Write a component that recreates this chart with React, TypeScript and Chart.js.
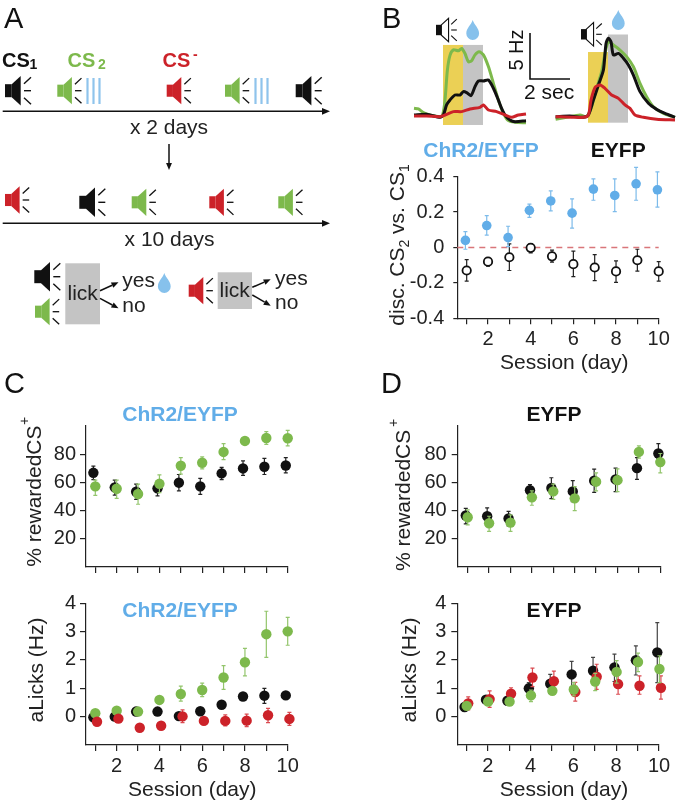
import React, { useEffect, useRef } from "react";
import { Chart, registerables } from "chart.js";

Chart.register(...registerables);

// ---------- data ----------
const sessions = [1, 2, 3, 4, 5, 6, 7, 8, 9, 10];

// B, discrimination
const discBlue = [0.04, 0.124, 0.056, 0.21, 0.263, 0.194, 0.33, 0.294, 0.36, 0.326];
const discBlueHi = [0.09, 0.18, 0.12, 0.245, 0.32, 0.275, 0.388, 0.388, 0.453, 0.427];
const discBlueLo = [-0.01, 0.07, 0.005, 0.17, 0.207, 0.11, 0.267, 0.203, 0.267, 0.228];
const discBlack = [-0.13, -0.08, -0.055, -0.002, -0.05, -0.094, -0.113, -0.135, -0.072, -0.135];
const discBlackHi = [-0.068, -0.06, 0.02, 0.02, -0.015, -0.02, -0.04, -0.075, -0.01, -0.08];
const discBlackLo = [-0.19, -0.105, -0.13, -0.03, -0.083, -0.165, -0.187, -0.197, -0.133, -0.19];
const discZero = [0, 0];

// B, traces: left (ChR2/EYFP)
const lGreenT = [-1.45, -1.23, -0.98, -0.65, -0.15, -0.02, 0.1, 0.22, 0.35, 0.52, 0.77, 0.93, 1.1, 1.27, 1.43, 1.6, 1.8, 2.02, 2.27, 2.52, 2.77, 3.02, 3.27, 3.6, 4.15];
const lGreenHz = [0.8, 0.73, 0.33, 0.07, -0.11, 0.07, 1.7, 5.0, 6.6, 7.2, 7.1, 7.35, 6.8, 5.9, 6.0, 6.65, 7.0, 6.65, 5.37, 3.54, 1.7, 0.26, -0.55, -0.73, -0.77];
const lBlackT = [-1.45, -0.82, -0.15, 0.02, 0.18, 0.35, 0.6, 0.85, 1.02, 1.18, 1.4, 1.6, 1.77, 2.02, 2.27, 2.52, 2.77, 2.93, 3.1, 3.35, 3.6, 4.15];
const lBlackHz = [0.07, 0.15, -0.18, 0.07, 1.17, 1.72, 2.26, 2.26, 2.63, 2.52, 2.19, 3.17, 3.8, 3.8, 3.9, 3.0, 1.7, 0.8, 0.07, -0.47, -0.66, -0.55];
const lRedT = [-1.45, -0.82, -0.15, 0.1, 0.52, 0.93, 1.35, 1.85, 2.02, 2.27, 2.68, 3.1, 3.43, 3.77, 4.15];
const lRedHz = [-0.04, -0.04, -0.11, 0.07, 0.44, 0.44, 0.73, 0.91, 1.17, 0.62, 0.44, 0.07, -0.18, 0.07, 0.18];
// B, traces: right (EYFP)
const rGreenT = [-1.62, -1.07, -0.4, -0.07, 0.18, 0.43, 0.68, 0.85, 1.02, 1.27, 1.6, 1.93, 2.27, 2.6, 2.93, 3.27, 3.77, 4.35];
const rGreenHz = [-0.29, -0.07, 0.18, 0, 1.09, 3.1, 4.9, 6.9, 8.2, 7.85, 7.3, 6.57, 5.47, 3.65, 2.19, 1.09, 0.36, -0.07];
const rBlackT = [-1.62, -0.9, -0.23, 0.02, 0.27, 0.55, 0.77, 0.9, 1.02, 1.15, 1.27, 1.52, 1.77, 2.02, 2.27, 2.6, 3.02, 3.43, 3.85, 4.35];
const rBlackHz = [0, 0.07, -0.07, 0.18, 1.82, 3.65, 5.1, 8.0, 8.6, 8.2, 6.75, 6.93, 6.4, 5.66, 4.56, 2.74, 1.46, 0.8, 0.36, -0.07];
const rRedT = [-1.62, -0.73, -0.23, 0.02, 0.15, 0.35, 0.6, 0.85, 1.18, 1.52, 1.85, 2.1, 2.35, 2.77, 3.43, 4.35];
const rRedHz = [0, -0.07, -0.07, 0.18, 1.82, 3.2, 3.47, 3.1, 2.37, 2.0, 1.28, 0.91, 0.18, -0.07, -0.29, -0.36];
// cue (0-1 s) and reward (1-2 s) windows, heights in Hz
const phaseEdges = [0, 1, 2];
const lPhaseTop = [7.74, 7.74];
const lPhaseFloor = -1.02;
const rPhaseTop = [7.08, 9.0];
const rPhaseFloor = -0.66;

// C, % rewarded
const cRewBlack = [66.8, 56.5, 53.4, 55.8, 59.8, 57.2, 66.4, 69.9, 71.1, 72];
const cRewBlackHi = [71.5, 61.6, 58.8, 58, 65.6, 62.8, 70.6, 75.3, 77, 77.6];
const cRewBlackLo = [62, 51, 48, 50.4, 54, 51.5, 62, 65, 65.6, 66.8];
const cRewGreen = [57.2, 55.5, 51.8, 59, 71.8, 73.9, 81.6, 89.4, 91.5, 91.3];
const cRewGreenHi = [61.6, 61.6, 58.8, 65.4, 77.6, 78.1, 87.5, 92, 96, 96.9];
const cRewGreenLo = [50.8, 48.7, 44.5, 52.7, 65.9, 69.6, 76.2, 86.8, 87, 85.9];

// C, anticipatory licks
const cLickBlack = [-0.02, 0, 0.18, 0.18, 0.02, 0.19, 0.42, 0.71, 0.74, 0.75];
const cLickBlackHi = [0.04, 0.06, 0.24, 0.24, 0.08, 0.25, 0.5, 0.79, 1.0, 0.82];
const cLickBlackLo = [-0.08, -0.06, 0.12, 0.12, -0.04, 0.13, 0.34, 0.63, 0.47, 0.68];
const cLickGreen = [0.12, 0.21, 0.18, 0.59, 0.8, 0.94, 1.38, 1.92, 2.91, 3.01];
const cLickGreenHi = [0.17, 0.28, 0.23, 0.67, 1.08, 1.18, 1.8, 2.41, 3.72, 3.5];
const cLickGreenLo = [0.07, 0.14, 0.13, 0.51, 0.55, 0.71, 0.96, 1.44, 2.09, 2.52];
const cLickRed = [-0.18, -0.07, -0.39, -0.32, 0.01, -0.15, -0.15, -0.14, 0.05, -0.08];
const cLickRedHi = [-0.11, -0.02, -0.33, -0.26, 0.24, -0.07, 0.06, 0.09, 0.29, 0.15];
const cLickRedLo = [-0.25, -0.12, -0.45, -0.38, -0.21, -0.23, -0.33, -0.35, -0.21, -0.31];

// D, % rewarded
const dRewBlack = [36.5, 36, 34.4, 54.4, 56, 53.6, 61.2, 62.1, 70.1, 80.5];
const dRewBlackHi = [41.6, 42, 39.5, 58.4, 63.3, 61.2, 69.4, 70.1, 77.6, 87.5];
const dRewBlackLo = [30.6, 29.9, 29.2, 50.4, 48.5, 46.4, 52.9, 53.4, 62.1, 77];
const dRewGreen = [35.3, 31, 31.5, 49.4, 53.6, 48.7, 60.5, 61.6, 81.6, 74.4];
const dRewGreenHi = [40.5, 36, 37, 54, 58.8, 57, 66.8, 69.6, 85.9, 80.5];
const dRewGreenLo = [29.9, 25.2, 25.2, 43.8, 48, 40, 54, 53.4, 77.2, 66.8];

// D, anticipatory licks
const dLickBlack = [0.34, 0.6, 0.56, 1, 1.16, 1.49, 1.62, 1.74, 1.99, 2.27];
const dLickBlackHi = [0.39, 0.65, 0.61, 1.2, 1.49, 1.95, 2.09, 2.21, 2.5, 3.32];
const dLickBlackLo = [0.29, 0.55, 0.51, 0.82, 0.82, 1.04, 1.18, 1.24, 1.47, 1.2];
const dLickGreen = [0.38, 0.53, 0.53, 0.75, 0.91, 0.96, 1.24, 1.58, 1.93, 1.68];
const dLickGreenHi = [0.43, 0.58, 0.58, 0.94, 1.01, 1.2, 1.53, 1.98, 2.24, 2.15];
const dLickGreenLo = [0.33, 0.48, 0.48, 0.53, 0.81, 0.73, 0.92, 1.18, 1.59, 1.2];
const dLickRed = [0.47, 0.62, 0.81, 1.38, 1.25, 0.87, 1.41, 1.15, 1.09, 1.02];
const dLickRedHi = [0.7, 0.91, 1.02, 1.71, 1.61, 1.21, 1.85, 1.59, 1.44, 1.44];
const dLickRedLo = [0.24, 0.33, 0.61, 1.06, 0.91, 0.55, 0.96, 0.79, 0.79, 0.62];

const discTicks = [-0.4, -0.2, 0, 0.2, 0.4];
const rewTicks = [20, 40, 60, 80];
const lickTicks = [0, 1, 2, 3, 4];

// ---------- style ----------
const FONT = '"Liberation Sans", Arial, sans-serif';
const BLACK = "#111111";
const INK = "#222222";
const GREEN = "#7DB94C";
const RED = "#CC2229";
const BLUE = "#61ADE8";
const YELLOW = "#EBD055";
const GRAY = "#C4C4C4";
const TICK_SIZE = 20;

// ---------- chart helpers ----------
const errorBars = {
  id: "errorBars",
  beforeDatasetDraw(chart: any, args: any) {
    const ds = chart.data.datasets[args.index];
    if (!ds.errHi) return;
    const { x, y } = chart.scales;
    const c = chart.ctx;
    c.save();
    c.strokeStyle = ds.errColor;
    c.lineWidth = 1.2;
    ds.data.forEach((p: any, i: number) => {
      const px = x.getPixelForValue(p.x);
      const hi = y.getPixelForValue(ds.errHi[i]);
      const lo = y.getPixelForValue(ds.errLo[i]);
      c.beginPath();
      c.moveTo(px, hi);
      c.lineTo(px, lo);
      c.moveTo(px - 2, hi);
      c.lineTo(px + 2, hi);
      c.moveTo(px - 2, lo);
      c.lineTo(px + 2, lo);
      c.stroke();
    });
    c.restore();
  },
};

function series(
  values: number[],
  hi: number[],
  lo: number[],
  color: string,
  errColor: string,
  shift: number,
  extra: any = {}
) {
  return {
    data: values.map((v, i) => ({ x: sessions[i] + shift, y: v })),
    errHi: hi,
    errLo: lo,
    errColor,
    pointRadius: 5.2,
    pointBackgroundColor: color,
    pointBorderColor: color,
    pointBorderWidth: 0,
    showLine: false,
    clip: false,
    ...extra,
  };
}

type Box = {
  left: number; top: number; width: number; height: number;
  axisX: number; areaTop: number; areaRight: number; areaBottom: number;
};

function panelConfig(
  box: Box,
  datasets: any[],
  xMin: number,
  yMin: number,
  yMax: number,
  yTicks: number[],
  showX: boolean,
  yFormat: (v: number) => string,
  tickLen: number,
  yPad: number
) {
  const axisLine = { display: true, color: INK, width: 1.2 };
  return {
    type: "scatter" as const,
    data: { datasets },
    plugins: [errorBars],
    options: {
      animation: false,
      responsive: false,
      events: [],
      layout: {
        autoPadding: false,
        padding: {
          left: 0,
          bottom: 0,
          top: box.areaTop - box.top,
          right: box.left + box.width - box.areaRight,
        },
      },
      plugins: { legend: { display: false }, tooltip: { enabled: false } },
      scales: {
        x: {
          type: "linear",
          min: xMin,
          max: 10,
          afterBuildTicks: (s: any) => {
            s.ticks = sessions.map((v) => ({ value: v }));
          },
          afterFit: (s: any) => {
            s.height = box.top + box.height - box.areaBottom;
            s.paddingLeft = 0;
            s.paddingRight = 0;
          },
          border: axisLine,
          grid: { drawOnChartArea: false, drawTicks: true, tickLength: 6, color: INK, lineWidth: 1.2 },
          ticks: {
            autoSkip: false,
            maxRotation: 0,
            minRotation: 0,
            padding: 3,
            color: INK,
            font: { family: FONT, size: TICK_SIZE },
            callback: (v: number) => (showX && v % 2 === 0 ? String(v) : ""),
          },
        },
        y: {
          type: "linear",
          min: yMin,
          max: yMax,
          afterBuildTicks: (s: any) => {
            s.ticks = yTicks.map((v) => ({ value: v }));
          },
          afterFit: (s: any) => {
            s.width = box.axisX - box.left;
            s.paddingTop = 0;
            s.paddingBottom = 0;
          },
          border: axisLine,
          grid: { drawOnChartArea: false, drawTicks: true, tickLength: tickLen, color: INK, lineWidth: 1.2 },
          ticks: {
            padding: yPad,
            color: INK,
            font: { family: FONT, size: TICK_SIZE },
            callback: (v: number) => yFormat(v),
          },
        },
      },
    },
  };
}

function traceConfig(
  traces: { t: number[]; hz: number[]; color: string }[],
  tMin: number,
  tMax: number,
  hzMin: number,
  hzMax: number,
  phaseTop: number[],
  phaseFloor: number
) {
  const phases = {
    id: "phases",
    beforeDatasetsDraw(chart: any) {
      const { x, y } = chart.scales;
      const c = chart.ctx;
      [YELLOW, GRAY].forEach((color, i) => {
        const l = x.getPixelForValue(phaseEdges[i]);
        const r = x.getPixelForValue(phaseEdges[i + 1]);
        const t = y.getPixelForValue(phaseTop[i]);
        const b = y.getPixelForValue(phaseFloor);
        c.fillStyle = color;
        c.fillRect(l, t, r - l, b - t);
      });
    },
  };
  return {
    type: "line" as const,
    data: {
      datasets: traces.map((tr) => ({
        data: tr.t.map((t, i) => ({ x: t, y: tr.hz[i] })),
        borderColor: tr.color,
        borderWidth: 3,
        pointRadius: 0,
        tension: 0.25,
        borderJoinStyle: "round",
        clip: false,
      })),
    },
    plugins: [phases],
    options: {
      animation: false,
      responsive: false,
      events: [],
      layout: { autoPadding: false, padding: 0 },
      plugins: { legend: { display: false }, tooltip: { enabled: false } },
      scales: {
        x: { type: "linear", min: tMin, max: tMax, display: false },
        y: { type: "linear", min: hzMin, max: hzMax, display: false },
      },
    },
  };
}

function Panel({ box, make }: { box: { left: number; top: number; width: number; height: number }; make: () => any }) {
  const ref = useRef<HTMLCanvasElement | null>(null);
  useEffect(() => {
    const chart = new Chart(ref.current as HTMLCanvasElement, make());
    return () => chart.destroy();
  }, []);
  return (
    <canvas
      ref={ref}
      width={box.width}
      height={box.height}
      style={{ position: "absolute", left: box.left, top: box.top, width: box.width, height: box.height }}
    />
  );
}

// ---------- schematic helpers ----------
function Speaker({ x, y, color, s = 1, hollow = false }: { x: number; y: number; color: string; s?: number; hollow?: boolean }) {
  return (
    <g transform={`translate(${x} ${y}) scale(${s})`}>
      <rect x={0} y={-6.5} width={6.7} height={13} fill={color} />
      <polygon
        points="6.7,-6.5 15.7,-14.7 15.7,14.7 6.7,6.5"
        fill={hollow ? "#fff" : color}
        stroke={hollow ? color : "none"}
        strokeWidth={hollow ? 1.4 : 0}
      />
      <g stroke={hollow ? color : BLACK} strokeWidth={1.4}>
        <line x1={19} y1={-7} x2={26} y2={-13.5} />
        <line x1={19} y1={0} x2={26} y2={0} />
        <line x1={19} y1={7} x2={26} y2={13.5} />
      </g>
    </g>
  );
}

function Pulses({ x, y }: { x: number; y: number }) {
  return (
    <g stroke="#8FC4EC" strokeWidth={2.2}>
      {[0, 6, 12].map((d) => (
        <line key={d} x1={x + d} y1={y - 13} x2={x + d} y2={y + 13} />
      ))}
    </g>
  );
}

function Arrow({ x1, y1, x2, y2, w = 1.5, head = 8 }: { x1: number; y1: number; x2: number; y2: number; w?: number; head?: number }) {
  const a = Math.atan2(y2 - y1, x2 - x1);
  const bx = x2 - head * Math.cos(a);
  const by = y2 - head * Math.sin(a);
  const nx = -Math.sin(a) * head * 0.42;
  const ny = Math.cos(a) * head * 0.42;
  return (
    <g>
      <line x1={x1} y1={y1} x2={bx} y2={by} stroke={BLACK} strokeWidth={w} />
      <polygon points={`${x2},${y2} ${bx + nx},${by + ny} ${bx - nx},${by - ny}`} fill={BLACK} />
    </g>
  );
}

function Drop({ x, top, h = 20 }: { x: number; top: number; h?: number }) {
  const w = h * 0.32;
  const k = h / 20;
  return (
    <path
      d={`M ${x} ${top} C ${x + 1.5 * k} ${top + 5 * k} ${x + w} ${top + 8 * k} ${x + w} ${top + 13.5 * k} A ${w} ${w} 0 1 1 ${x - w} ${top + 13.5 * k} C ${x - w} ${top + 8 * k} ${x - 1.5 * k} ${top + 5 * k} ${x} ${top} Z`}
      fill="#86C1EC"
    />
  );
}

function Txt({ x, y, size = 21, color = INK, bold = false, anchor = "start", rot, children }: any) {
  return (
    <text
      x={x}
      y={y}
      fontSize={size}
      fill={color}
      fontWeight={bold ? "bold" : "normal"}
      textAnchor={anchor}
      transform={rot ? `rotate(${rot} ${x} ${y})` : undefined}
    >
      {children}
    </text>
  );
}

// ---------- boxes ----------
const boxDisc: Box = { left: 410, top: 165, width: 267, height: 190, axisX: 457.3, areaTop: 176.7, areaRight: 658.7, areaBottom: 318.3 };
const boxCRew: Box = { left: 44, top: 415, width: 270, height: 165, axisX: 86, areaTop: 426, areaRight: 287.7, areaBottom: 567 };
const boxCLick: Box = { left: 44, top: 592, width: 270, height: 185, axisX: 86, areaTop: 603.3, areaRight: 287.7, areaBottom: 745 };
const boxDRew: Box = { left: 412, top: 415, width: 265, height: 165, axisX: 457.7, areaTop: 426, areaRight: 660.3, areaBottom: 567 };
const boxDLick: Box = { left: 412, top: 592, width: 265, height: 185, axisX: 457.3, areaTop: 603.3, areaRight: 659, areaBottom: 745 };
const boxTraceL = { left: 410, top: 40, width: 120, height: 90 };
const boxTraceR = { left: 550, top: 25, width: 127, height: 105 };

const fmtDisc = (v: number) => (v === 0 ? "0" : v.toFixed(1));
const fmtInt = (v: number) => String(v);

export default function App() {
  return (
    <div style={{ position: "fixed", left: 0, top: 0, width: 677, height: 802, overflow: "hidden", background: "#fff", fontFamily: FONT }}>
      <Panel
        box={boxTraceL}
        make={() =>
          traceConfig(
            [
              { t: lRedT, hz: lRedHz, color: RED },
              { t: lBlackT, hz: lBlackHz, color: BLACK },
              { t: lGreenT, hz: lGreenHz, color: GREEN },
            ],
            -1.65, 4.35, -1.57, 8.28, lPhaseTop, lPhaseFloor
          )
        }
      />
      <Panel
        box={boxTraceR}
        make={() =>
          traceConfig(
            [
              { t: rRedT, hz: rRedHz, color: RED },
              { t: rBlackT, hz: rBlackHz, color: BLACK },
              { t: rGreenT, hz: rGreenHz, color: GREEN },
            ],
            -1.9, 4.45, -1.46, 10.04, rPhaseTop, rPhaseFloor
          )
        }
      />
      <Panel
        box={boxDisc}
        make={() =>
          panelConfig(
            boxDisc,
            [
              series(discBlue, discBlueHi, discBlueLo, BLUE, "#7DBBEA", -0.06, { pointRadius: 4.8 }),
              series(discBlack, discBlackHi, discBlackLo, "#fff", INK, 0, {
                pointRadius: 4.2,
                pointBorderColor: BLACK,
                pointBorderWidth: 1.8,
              }),
              {
                data: [{ x: 0.56, y: discZero[0] }, { x: 10, y: discZero[1] }],
                showLine: true,
                pointRadius: 0,
                borderColor: "#D9767A",
                borderWidth: 1.3,
                borderDash: [6, 5],
                clip: false,
              },
            ],
            0.56, -0.4, 0.4, discTicks, true, fmtDisc, 4, 9
          )
        }
      />
      <Panel
        box={boxCRew}
        make={() =>
          panelConfig(
            boxCRew,
            [
              series(cRewGreen, cRewGreenHi, cRewGreenLo, GREEN, "#93C56C", 0),
              series(cRewBlack, cRewBlackHi, cRewBlackLo, BLACK, INK, -0.09),
            ],
            0.565, 0, 100, rewTicks, false, fmtInt, 6, 4
          )
        }
      />
      <Panel
        box={boxCLick}
        make={() =>
          panelConfig(
            boxCLick,
            [
              series(cLickRed, cLickRedHi, cLickRedLo, RED, "#DA4A50", 0.08),
              series(cLickGreen, cLickGreenHi, cLickGreenLo, GREEN, "#93C56C", 0),
              series(cLickBlack, cLickBlackHi, cLickBlackLo, BLACK, INK, -0.09),
            ],
            0.565, -1, 4, lickTicks, true, fmtInt, 6, 4
          )
        }
      />
      <Panel
        box={boxDRew}
        make={() =>
          panelConfig(
            boxDRew,
            [
              series(dRewGreen, dRewGreenHi, dRewGreenLo, GREEN, "#93C56C", 0),
              series(dRewBlack, dRewBlackHi, dRewBlackLo, BLACK, INK, -0.09),
            ],
            0.533, 0, 100, rewTicks, false, fmtInt, 6, 5
          )
        }
      />
      <Panel
        box={boxDLick}
        make={() =>
          panelConfig(
            boxDLick,
            [
              series(dLickGreen, dLickGreenHi, dLickGreenLo, GREEN, "#93C56C", 0.02),
              series(dLickRed, dLickRedHi, dLickRedLo, RED, "#DA4A50", 0.09),
              series(dLickBlack, dLickBlackHi, dLickBlackLo, BLACK, "#444", -0.08),
            ],
            0.58, -1, 4, lickTicks, true, fmtInt, 6, 5
          )
        }
      />

      <svg
        width={677}
        height={802}
        style={{ position: "absolute", left: 0, top: 0, pointerEvents: "none", fontFamily: FONT }}
      >
        {/* panel letters */}
        <Txt x={4} y={27.7} size={29} color={BLACK}>A</Txt>
        <Txt x={382} y={28} size={29} color={BLACK}>B</Txt>
        <Txt x={4} y={393} size={29} color={BLACK}>C</Txt>
        <Txt x={381} y={393} size={29} color={BLACK}>D</Txt>

        {/* panel A */}
        <Txt x={2} y={66.7} size={20} bold color={BLACK}>CS</Txt>
        <Txt x={29.5} y={69} size={14} bold color={BLACK}>1</Txt>
        <Txt x={67.5} y={66.7} size={20} bold color={GREEN}>CS</Txt>
        <Txt x={98} y={69} size={14} bold color={GREEN}>2</Txt>
        <Txt x={162.5} y={66.7} size={20} bold color={RED}>CS</Txt>
        <Txt x={193} y={59} size={14} bold color={RED}>-</Txt>

        <Speaker x={5} y={90.7} color={BLACK} />
        <Speaker x={57.3} y={90.7} color={GREEN} s={0.93} />
        <Pulses x={87.5} y={91} />
        <Speaker x={166.7} y={90.7} color={RED} s={0.93} />
        <Speaker x={225} y={90.7} color={GREEN} s={0.93} />
        <Pulses x={255.5} y={91} />
        <Speaker x={295.7} y={90.7} color={BLACK} />
        <Arrow x1={2.7} y1={111.3} x2={330} y2={111.3} head={8} />
        <Txt x={169} y={134} anchor="middle">x 2 days</Txt>
        <Arrow x1={169} y1={144} x2={169} y2={170} head={7} />

        <Speaker x={5} y={200} color={RED} s={0.93} />
        <Speaker x={79.3} y={202.3} color={BLACK} />
        <Speaker x={131.7} y={202.3} color={GREEN} s={0.93} />
        <Speaker x={209.3} y={202.3} color={RED} s={0.93} />
        <Speaker x={278.3} y={202.3} color={GREEN} s={0.93} />
        <Arrow x1={2.7} y1={223.3} x2={330} y2={223.3} head={8} />
        <Txt x={169.5} y={245.7} anchor="middle">x 10 days</Txt>

        <Speaker x={34.3} y={276.7} color={BLACK} />
        <Speaker x={35} y={311.7} color={GREEN} s={0.93} />
        <rect x={65.3} y={263.3} width={34.7} height={61} fill={GRAY} />
        <Txt x={82.7} y={300} anchor="middle">lick</Txt>
        <Arrow x1={100} y1={290.7} x2={118.5} y2={282.3} head={7} />
        <Arrow x1={100} y1={298.3} x2={118.5} y2={308.3} head={7} />
        <Txt x={122.3} y={287.3}>yes</Txt>
        <Txt x={122.3} y={312.3}>no</Txt>
        <Drop x={164.3} top={273} />

        <Speaker x={188.7} y={290.7} color={RED} s={0.93} />
        <rect x={217.7} y={272.3} width={34.3} height={36.7} fill={GRAY} />
        <Txt x={234.7} y={296.7} anchor="middle">lick</Txt>
        <Arrow x1={252.3} y1={287.3} x2={270.7} y2={279.3} head={7} />
        <Arrow x1={252.3} y1={295} x2={270.7} y2={305.7} head={7} />
        <Txt x={275} y={285}>yes</Txt>
        <Txt x={275} y={309.3}>no</Txt>

        {/* panel B */}
        <Speaker x={436} y={30} color={BLACK} s={0.8} hollow />
        <Drop x={472.7} top={20} />
        <Speaker x={581} y={34.3} color={BLACK} s={0.8} hollow />
        <Drop x={618.3} top={10} />
        <g stroke={BLACK} strokeWidth={1.6} fill="none">
          <polyline points="530,33 530,79 570,79" />
        </g>
        <Txt x={523} y={50} rot={-90} anchor="middle" color={BLACK} size={20}>5 Hz</Txt>
        <Txt x={524} y={99} color={BLACK}>2 sec</Txt>
        <Txt x={481} y={156.7} anchor="middle" bold color={BLUE}>ChR2/EYFP</Txt>
        <Txt x={618.3} y={156.7} anchor="middle" bold color={BLACK}>EYFP</Txt>

        <g transform="translate(404 325.7) rotate(-90)" fontSize={21} fill={INK}>
          <text x={0} y={0}>
            disc. CS<tspan dy={5} fontSize={14}>2</tspan><tspan dy={-5}> vs. CS</tspan><tspan dy={5} fontSize={14}>1</tspan>
          </text>
        </g>
        <Txt x={564.3} y={369.3} anchor="middle">Session (day)</Txt>

        {/* panel C */}
        <Txt x={180} y={420.7} anchor="middle" bold color={BLUE}>ChR2/EYFP</Txt>
        <Txt x={40.7} y={566.7} rot={-90}>% rewardedCS</Txt>
        <Txt x={29} y={425} rot={-90} size={14}>+</Txt>
        <Txt x={180} y={617.3} anchor="middle" bold color={BLUE}>ChR2/EYFP</Txt>
        <Txt x={43.3} y={670} rot={-90} anchor="middle">aLicks (Hz)</Txt>
        <Txt x={192.3} y={796} anchor="middle">Session (day)</Txt>

        {/* panel D */}
        <Txt x={554} y={420.7} anchor="middle" bold color={BLACK}>EYFP</Txt>
        <Txt x={410} y={571} rot={-90}>% rewardedCS</Txt>
        <Txt x={398} y={427} rot={-90} size={14}>+</Txt>
        <Txt x={554} y={617.3} anchor="middle" bold color={BLACK}>EYFP</Txt>
        <Txt x={415.7} y={670} rot={-90} anchor="middle">aLicks (Hz)</Txt>
        <Txt x={564} y={796} anchor="middle">Session (day)</Txt>
      </svg>
    </div>
  );
}
